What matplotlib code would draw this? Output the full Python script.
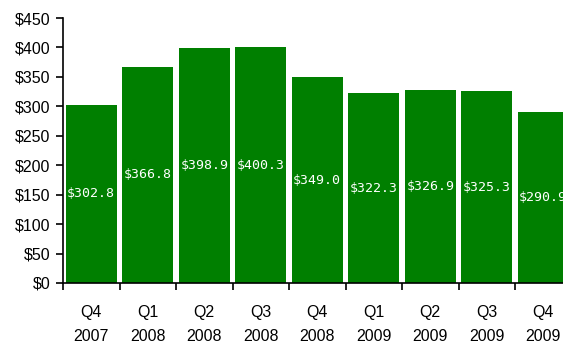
import numpy as np
import matplotlib.pyplot as plt

quarters = ['Q4', 'Q1', 'Q2', 'Q3', 'Q4', 'Q1', 'Q2', 'Q3', 'Q4']
years = ['2007', '2008', '2008', '2008', '2008', '2009', '2009', '2009', '2009']
values = [302.8, 366.8, 398.9, 400.3, 349.0, 322.3, 326.9, 325.3, 290.9]

plt.rcParams['font.family'] = ['Liberation Sans', 'DejaVu Sans']

fig = plt.figure(figsize=(5.63, 3.47), dpi=100)
ax = fig.add_axes([63 / 563, 1 - 283 / 347, 508.5 / 563, 265 / 347])

x = np.arange(len(values))
ax.bar(x, values, width=0.91, color='#007f00', zorder=2)

# value labels at half height of each bar
for xi, v in zip(x, values):
    ax.text(xi, v / 2, '$%.1f' % v, ha='center', va='center', color='white',
            fontsize=9.5, family='DejaVu Sans Mono', zorder=3)

ax.set_xlim(-0.5, len(values) - 0.5)
ax.set_ylim(0, 450)
ax.set_yticks(range(0, 451, 50))
ax.set_yticklabels(['$%d' % t for t in range(0, 451, 50)], fontsize=11.5)

ax.set_xticks(np.arange(-0.5, len(values), 1.0))
ax.set_xticklabels([])
ax.set_xticks(x, minor=True)
ax.set_xticklabels([q + '\n' + y for q, y in zip(quarters, years)], minor=True,
                   fontsize=11.5, linespacing=1.75)
ax.tick_params(axis='x', which='minor', length=0, pad=16)
ax.tick_params(axis='x', which='major', length=5, width=1.2, direction='out')
ax.tick_params(axis='y', length=5, width=1.2, direction='out', pad=4)

ax.spines['top'].set_visible(False)
ax.spines['right'].set_visible(False)
ax.spines['left'].set_linewidth(1.2)
ax.spines['bottom'].set_linewidth(1.2)

plt.savefig('out.png', dpi=100)
